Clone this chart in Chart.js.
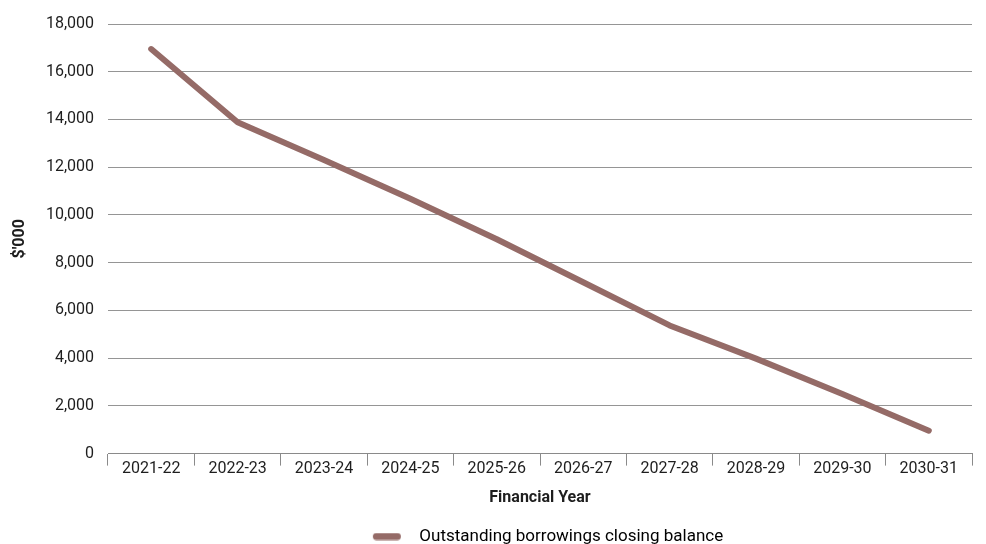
<!DOCTYPE html>
<html>
<head>
<meta charset="utf-8">
<script src="https://cdn.jsdelivr.net/npm/chart.js@4/dist/chart.umd.min.js"></script>
<style>
    html, body { margin: 0; padding: 0; background: #fff; }
    #wrap { width: 986px; height: 544px; position: relative; }
</style>
</head>
<body>
<div id="wrap"><canvas id="chart"></canvas></div>
<script>
// Values ($'000)
const years = [
    "2021-22", "2022-23", "2023-24", "2024-25", "2025-26",
    "2026-27", "2027-28", "2028-29", "2029-30", "2030-31"
];
const closingBalance = [16950, 13880, 12300, 10680, 8980, 7180, 5370, 3980, 2500, 960];
const seriesLabel = "Outstanding borrowings closing balance";

const lineColour = "#956b67";
const textColour = "#1e1e1e";
const fontFamily = "Roboto, 'Noto Sans', sans-serif";

Chart.defaults.font.family = fontFamily;
Chart.defaults.font.size = 16;
Chart.defaults.color = textColour;

/**
 * Builds the legend swatch: blank lead-in, a rounded bar, then a gap,
 * so the item sits where the reference puts it.
 */
function legendSwatch()
{
    const c = document.createElement("canvas");
    c.width = 54;
    c.height = 8;
    const ctx = c.getContext("2d");
    ctx.fillStyle = lineColour;
    ctx.beginPath();
    ctx.roundRect(16, 0.5, 28, 7, 3.5);
    ctx.fill();
    return c;
}

new Chart(document.getElementById("chart"), {
    type: "line",
    data: {
        labels: years,
        datasets: [{
            label: seriesLabel,
            data: closingBalance,
            borderColor: lineColour,
            backgroundColor: lineColour,
            borderWidth: 6,
            borderCapStyle: "round",
            borderJoinStyle: "round",
            pointRadius: 0,
            tension: 0
        }]
    },
    options: {
        responsive: true,
        maintainAspectRatio: false,
        animation: false,
        layout: { padding: { top: 24, right: 14, bottom: -11, left: 0 } },
        plugins: {
            tooltip: { enabled: false },
            legend: {
                position: "bottom",
                fullSize: false,
                labels: {
                    usePointStyle: true,
                    pointStyleWidth: 54,
                    padding: 1,
                    color: textColour,
                    font: { size: 17 },
                    generateLabels() {
                        return [{
                            text: seriesLabel,
                            pointStyle: legendSwatch(),
                            fillStyle: lineColour,
                            strokeStyle: "rgba(0,0,0,0)",
                            lineWidth: 0,
                            datasetIndex: 0
                        }];
                    }
                }
            }
        },
        scales: {
            x: {
                offset: true,
                border: { display: true, color: "#8a8a8a", width: 1 },
                grid: {
                    offset: true,
                    drawOnChartArea: false,
                    drawTicks: true,
                    tickLength: 12,
                    color: "#8a8a8a"
                },
                ticks: { padding: -6, maxRotation: 0, autoSkip: false, color: textColour },
                title: {
                    display: true,
                    text: "Financial Year",
                    color: textColour,
                    font: { size: 16, weight: "bold" },
                    padding: { top: 16, bottom: 19 }
                }
            },
            y: {
                min: 0,
                max: 18000,
                border: { display: false },
                grid: { color: "#959595", drawTicks: false },
                ticks: {
                    stepSize: 2000,
                    padding: 14,
                    color: textColour,
                    callback: (v) => v.toLocaleString("en-AU")
                },
                title: {
                    display: true,
                    text: "$'000",
                    color: textColour,
                    font: { size: 16, weight: "bold" },
                    padding: { top: 10, bottom: 0 }
                },
                afterFit(scale) {
                    scale.width = 108;
                }
            }
        }
    }
});
</script>
</body>
</html>
